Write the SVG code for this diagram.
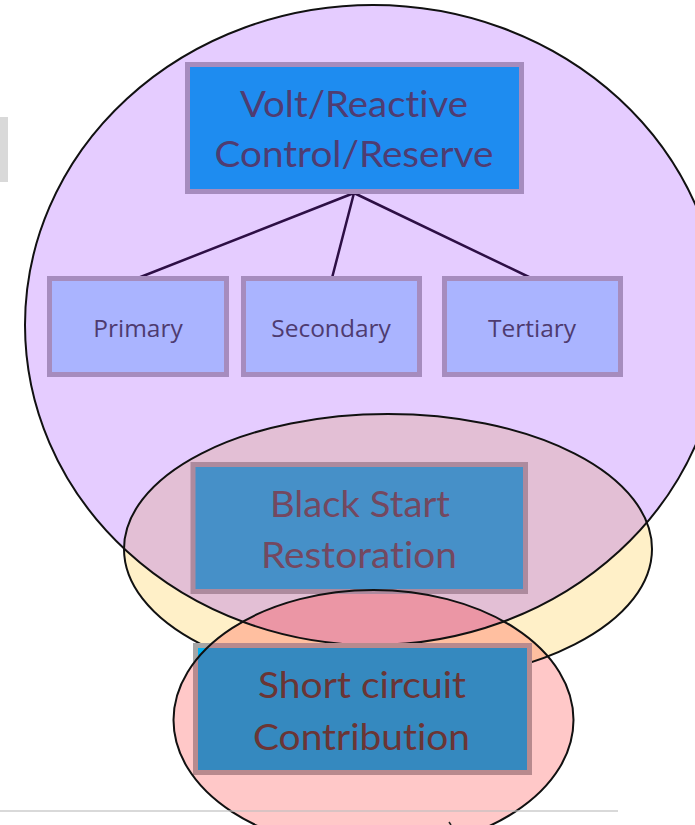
<svg xmlns="http://www.w3.org/2000/svg" width="695" height="825" viewBox="0 0 695 825">
  <style>
    .big { font-family: Lato, "Liberation Sans", sans-serif; font-size: 36px; text-anchor: middle; font-variant-ligatures: none; font-feature-settings: "liga" 0, "clig" 0; }
    .small { font-family: "Open Sans", "Noto Sans", sans-serif; font-size: 24.5px; text-anchor: middle; fill: #4E3B70; }
    .sub { fill: #AAB4FF; stroke: #A68CBE; stroke-width: 5; }
    .edge { stroke: #2D0F45; stroke-width: 2.5; fill: none; stroke-linecap: round; }
    .outline { fill: none; stroke: #111; stroke-width: 2; }
  </style>
  <defs>
    <clipPath id="cPurple"><ellipse cx="373" cy="325" rx="348" ry="320"/></clipPath>
    <clipPath id="cYellow"><ellipse cx="388" cy="549" rx="264" ry="135"/></clipPath>
    <clipPath id="cPink"><ellipse cx="373.5" cy="720" rx="200" ry="130"/></clipPath>
  </defs>
  <rect width="695" height="825" fill="#FFFFFF"/>
  <rect id="side-tab" x="0" y="117" width="8" height="65" fill="#D9D9D9"/>

  <g id="regions">
    <ellipse cx="388" cy="549" rx="264" ry="135" fill="#FFF0C8"/>
    <ellipse cx="373" cy="325" rx="348" ry="320" fill="#E5CCFF"/>
    <ellipse cx="388" cy="549" rx="264" ry="135" fill="#E3BFD5" clip-path="url(#cPurple)"/>
    <ellipse cx="373.5" cy="720" rx="200" ry="130" fill="#FFC8C8"/>
    <ellipse cx="373.5" cy="720" rx="200" ry="130" fill="#FFBFA0" clip-path="url(#cYellow)"/>
    <g clip-path="url(#cPurple)">
      <ellipse cx="373.5" cy="720" rx="200" ry="130" fill="#EB96A5" clip-path="url(#cYellow)"/>
    </g>
    <ellipse class="outline" cx="388" cy="549" rx="264" ry="135"/>
    <ellipse class="outline" cx="373" cy="325" rx="348" ry="320"/>
  </g>

  <g id="connectors">
    <line class="edge" x1="354" y1="193" x2="138" y2="278"/>
    <line class="edge" x1="354" y1="193" x2="332" y2="278"/>
    <line class="edge" x1="354" y1="193" x2="531" y2="278"/>
  </g>

  <g id="volt-reactive">
    <rect x="187.5" y="64.5" width="334" height="127" fill="#1E8CF0" stroke="#A68CBE" stroke-width="5"/>
    <text class="big" x="354" y="117" fill="#4F3C72" textLength="228" lengthAdjust="spacingAndGlyphs">Volt/Reactive</text>
    <text class="big" x="354" y="167" fill="#4F3C72" textLength="279" lengthAdjust="spacingAndGlyphs">Control/Reserve</text>
  </g>

  <g id="primary">
    <rect class="sub" x="49.5" y="278.5" width="177" height="96"/>
    <text class="small" x="138" y="337">Primary</text>
  </g>
  <g id="secondary">
    <rect class="sub" x="243.5" y="278.5" width="176" height="96"/>
    <text class="small" x="331" y="337">Secondary</text>
  </g>
  <g id="tertiary">
    <rect class="sub" x="444.5" y="278.5" width="176" height="96"/>
    <text class="small" x="532" y="337">Tertiary</text>
  </g>

  <g id="black-start">
    <rect x="193" y="464.5" width="332.5" height="127" fill="#4690C8" stroke="#AD8A9E" stroke-width="5"/>
    <text class="big" x="360" y="517" fill="#744860" textLength="180" lengthAdjust="spacingAndGlyphs">Black Start</text>
    <text class="big" x="359" y="568" fill="#744860" textLength="196" lengthAdjust="spacingAndGlyphs">Restoration</text>
  </g>

  <g id="short-circuit">
    <rect x="195.5" y="645.5" width="334" height="127" fill="#00B0F0" stroke="#A6A6A6" stroke-width="5"/>
    <rect x="195.5" y="645.5" width="334" height="127" fill="#3589BF" stroke="#B88A8E" stroke-width="5" clip-path="url(#cPink)"/>
    <text class="big" x="362" y="698" fill="#6B3535" textLength="208" lengthAdjust="spacingAndGlyphs">Short circuit</text>
    <text class="big" x="361.5" y="750" fill="#6B3535" textLength="217" lengthAdjust="spacingAndGlyphs">Contribution</text>
  </g>

  <ellipse id="short-circuit-ring" class="outline" cx="373.5" cy="720" rx="200" ry="130"/>

  <line id="footer-rule" x1="0" y1="811" x2="618" y2="811" stroke="#BFBFBF" stroke-opacity="0.6" stroke-width="2"/>
  <line id="footer-mark" x1="449" y1="822" x2="451" y2="825" stroke="#222" stroke-width="1.5"/>
</svg>
